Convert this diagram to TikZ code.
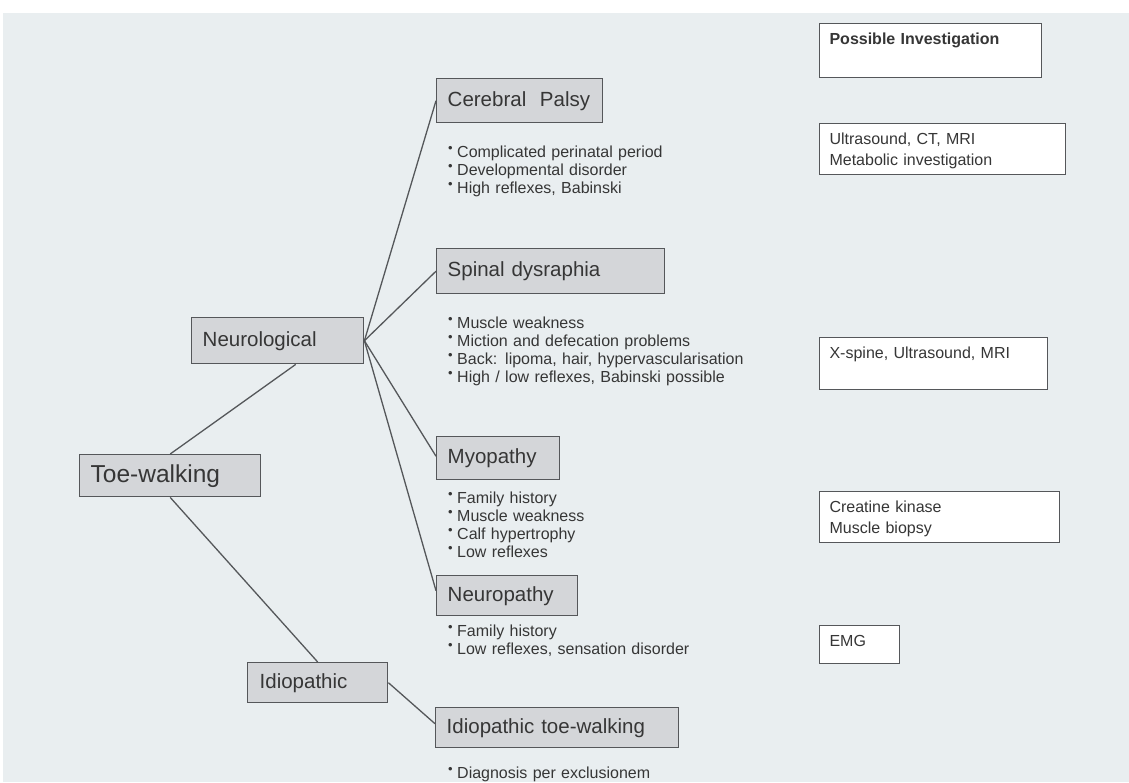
\documentclass[tikz,border=0pt]{standalone}
\usepackage{fontspec}
\setmainfont{Liberation Sans}
\usepackage{tikz}
\usetikzlibrary{positioning}

\definecolor{bgcol}{HTML}{E9EEF0}
\definecolor{boxgrey}{HTML}{D4D6D9}
\definecolor{boxline}{HTML}{55575A}
\definecolor{inkcol}{HTML}{363636}
\newcommand{\itm}{\makebox[9pt][l]{\raisebox{5pt}{\fontsize{13}{13}\selectfont\textbullet}}}

\begin{document}
\begin{tikzpicture}[
    x=1pt, y=-1pt,
    diag/.style={draw=boxline, fill=boxgrey, line width=1.4pt, anchor=north west,
        inner xsep=11pt, inner ysep=0pt, text=inkcol, font=\fontsize{20.5}{24}\selectfont},
    invest/.style={draw=boxline, fill=white, line width=1.1pt, anchor=north west,
        inner xsep=10pt, inner ysep=5pt, text height=16pt, align=left,
        text=inkcol, font=\fontsize{16}{21}\selectfont},
    notes/.style={anchor=base west, inner sep=0pt, text width=320pt, align=left,
        text=inkcol, font=\fontsize{16}{18}\selectfont},
    link/.style={draw=boxline, line width=1.3pt}
]

\useasboundingbox (0,0) rectangle (1129,782);
\fill[white] (0,0) rectangle (1129,782);
\fill[bgcol] (3,13) rectangle (1129,782);

% main tree
\node[diag, text width=159pt, minimum height=42pt, font=\fontsize{24.5}{28}\selectfont] (toe) at (79,454) {Toe-walking};
\node[diag, text width=150pt, minimum height=46pt] (neuro) at (191,317) {Neurological};
\node[diag, text width=116pt, minimum height=40pt, inner xsep=12pt] (idio) at (247,662) {Idiopathic};

% causes
\node[diag, text width=144pt, minimum height=44pt] (cp) at (436,78) {Cerebral~ Palsy};
\node[diag, text width=206pt, minimum height=45pt] (spinal) at (436,248) {Spinal dysraphia};
\node[diag, text width=101pt, minimum height=43pt] (myo) at (436,436) {Myopathy};
\node[diag, text width=119pt, minimum height=40pt] (neurop) at (436,575) {Neuropathy};
\node[diag, text width=221pt, minimum height=40pt] (idiotw) at (435,707) {Idiopathic toe-walking};

% findings
\node[notes] (cpnotes) at ([xshift=12pt, yshift=-34pt]cp.south west)
    {\itm Complicated perinatal period\\ \itm Developmental disorder\\ \itm High reflexes, Babinski};
\node[notes] (spinalnotes) at ([xshift=12pt, yshift=-34pt]spinal.south west)
    {\itm Muscle weakness\\ \itm Miction and defecation problems\\ \itm Back: lipoma, hair, hypervascularisation\\ \itm High / low reflexes, Babinski possible};
\node[notes] (myonotes) at ([xshift=12pt, yshift=-23pt]myo.south west)
    {\itm Family history\\ \itm Muscle weakness\\ \itm Calf hypertrophy\\ \itm Low reflexes};
\node[notes] (neuropnotes) at ([xshift=12pt, yshift=-20pt]neurop.south west)
    {\itm Family history\\ \itm Low reflexes, sensation disorder};
\node[notes] (idiotwnotes) at ([xshift=13pt, yshift=-30pt]idiotw.south west)
    {\itm Diagnosis per exclusionem};

% investigations
\node[invest, text width=202pt, text depth=28pt] (invhead) at (819,23) {\bfseries Possible Investigation};
\node[invest, text width=226pt, text depth=25pt] (cpinv) at (819,123) {Ultrasound, CT, MRI\\ Metabolic investigation};
\node[invest, text width=208pt, text depth=26pt] (spinalinv) at (819,337) {X-spine, Ultrasound, MRI};
\node[invest, text width=220pt, text depth=25pt] (myoinv) at (819,491) {Creatine kinase\\ Muscle biopsy};
\node[invest, text width=60pt, text depth=12pt] (neuropinv) at (819,625) {EMG};

% branches
\draw[link] (toe.north) -- ([xshift=18pt]neuro.south);
\draw[link] (toe.south) -- (idio.north);
\draw[link] (neuro.east) -- (cp.west);
\draw[link] (neuro.east) -- (spinal.west);
\draw[link] (neuro.east) -- ([yshift=2pt]myo.west);
\draw[link] (neuro.east) -- ([yshift=5pt]neurop.west);
\draw[link] (idio.east) -- ([yshift=4pt]idiotw.west);

\end{tikzpicture}
\end{document}
